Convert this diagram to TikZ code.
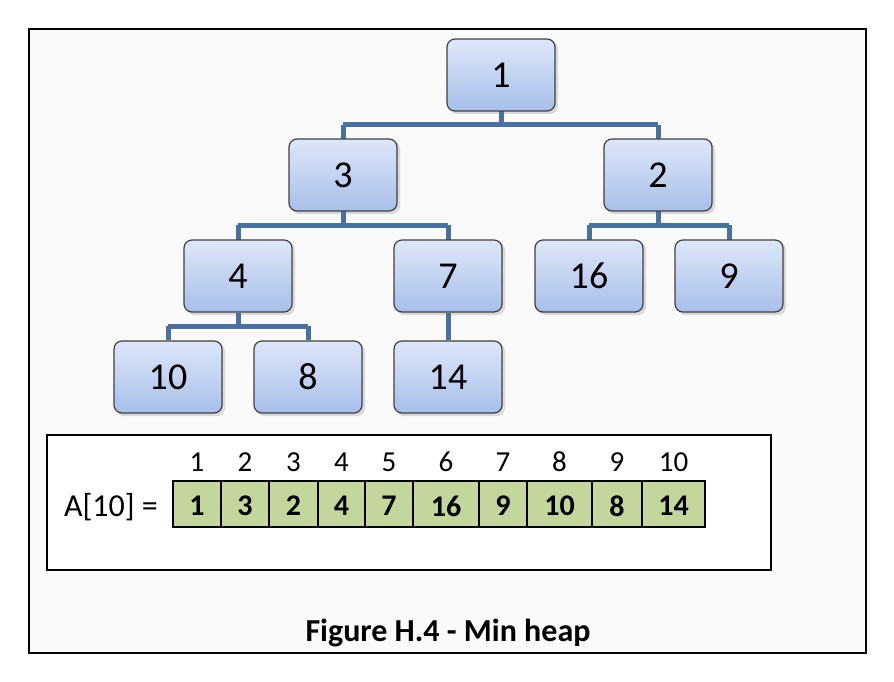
\documentclass[tikz,border=0pt]{standalone}
\usepackage{fontspec}
\setmainfont{Carlito}
\begin{document}
\begin{tikzpicture}[x=1pt,y=-1pt,
  heapnode/.style={draw=black!75, line width=1.2pt, rounded corners=8pt,
    minimum width=108pt, minimum height=72pt, inner sep=0pt,
    top color={rgb,255:red,222;green,231;blue,249}, bottom color={rgb,255:red,168;green,191;blue,234},
    font=\fontsize{38}{42}\selectfont},
  shadowbox/.style={fill=black!15, rounded corners=8pt},
  link/.style={draw={rgb,255:red,74;green,112;blue,160}, line width=5pt},
  cell/.style={draw=black, line width=1.6pt, fill={rgb,255:red,195;green,214;blue,155}},
  cellnum/.style={font=\bfseries\fontsize{30}{33}\selectfont},
  idx/.style={font=\fontsize{29}{32}\selectfont}]
\useasboundingbox (0,0) rectangle (894,682);
\fill[white] (0,0) rectangle (894,682);
\fill[black!2] (29,29) rectangle (866,653);
\draw[line width=1.6pt] (29,29) rectangle (866,653);

\coordinate (j1) at (501,125);
\coordinate (j3) at (343,225);
\coordinate (j2) at (658,225);
\coordinate (j4) at (238,326);
\foreach \x/\y in {501/75, 343/175, 658/175, 238/276, 448/276,
  589/276, 729/276, 168/377, 308/377, 448/377}{
  \fill[shadowbox] (\x-52,\y-34) rectangle (\x+57,\y+39);
}
\draw[link] (501,111) -- (j1);
\draw[link] (343,125) -- (658,125);
\draw[link] (343,125) -- (343,139);
\draw[link] (658,125) -- (658,139);
\draw[link] (343,211) -- (j3);
\draw[link] (238,225) -- (448,225);
\draw[link] (238,225) -- (238,240);
\draw[link] (448,225) -- (448,240);
\draw[link] (658,211) -- (j2);
\draw[link] (589,225) -- (729,225);
\draw[link] (589,225) -- (589,240);
\draw[link] (729,225) -- (729,240);
\draw[link] (238,313) -- (j4);
\draw[link] (168,326) -- (308,326);
\draw[link] (168,326) -- (168,340);
\draw[link] (308,326) -- (308,340);
\draw[link] (448,313) -- (448,340);

\node[heapnode] (n1) at (501,75) {1};
\node[heapnode] (n3) at (343,175) {3};
\node[heapnode] (n2) at (658,175) {2};
\node[heapnode] (n4) at (238,276) {4};
\node[heapnode] (n7) at (448,276) {7};
\node[heapnode] (n16) at (589,276) {16};
\node[heapnode] (n9) at (729,276) {9};
\node[heapnode] (n10) at (168,377) {10};
\node[heapnode] (n8) at (308,377) {8};
\node[heapnode] (n14) at (448,377) {14};

\draw[line width=1.6pt, fill=white] (47,435) rectangle (771,570);
\node[font=\fontsize{32}{35}\selectfont, anchor=east, inner sep=0pt] (lab) at (158,507) {A[10] =};
\foreach \a/\b/\i/\v in {173/221/1/1, 221/269/2/3, 269/318/3/2, 318/365/4/4, 365/413/5/7,
  413/479/6/16, 479/527/7/9, 527/592/8/10, 592/642/9/8, 642/705/10/14}{
  \draw[cell] (\a,481) rectangle (\b,527);
  \node[cellnum] (c\i) at ({(\a+\b)/2},506) {\v};
  \node[idx] (i\i) at ({(\a+\b)/2},462) {\i};
}
\node[font=\bfseries\fontsize{32}{35}\selectfont] (cap) at (448,633) {Figure H.4 - Min heap};
\end{tikzpicture}
\end{document}
